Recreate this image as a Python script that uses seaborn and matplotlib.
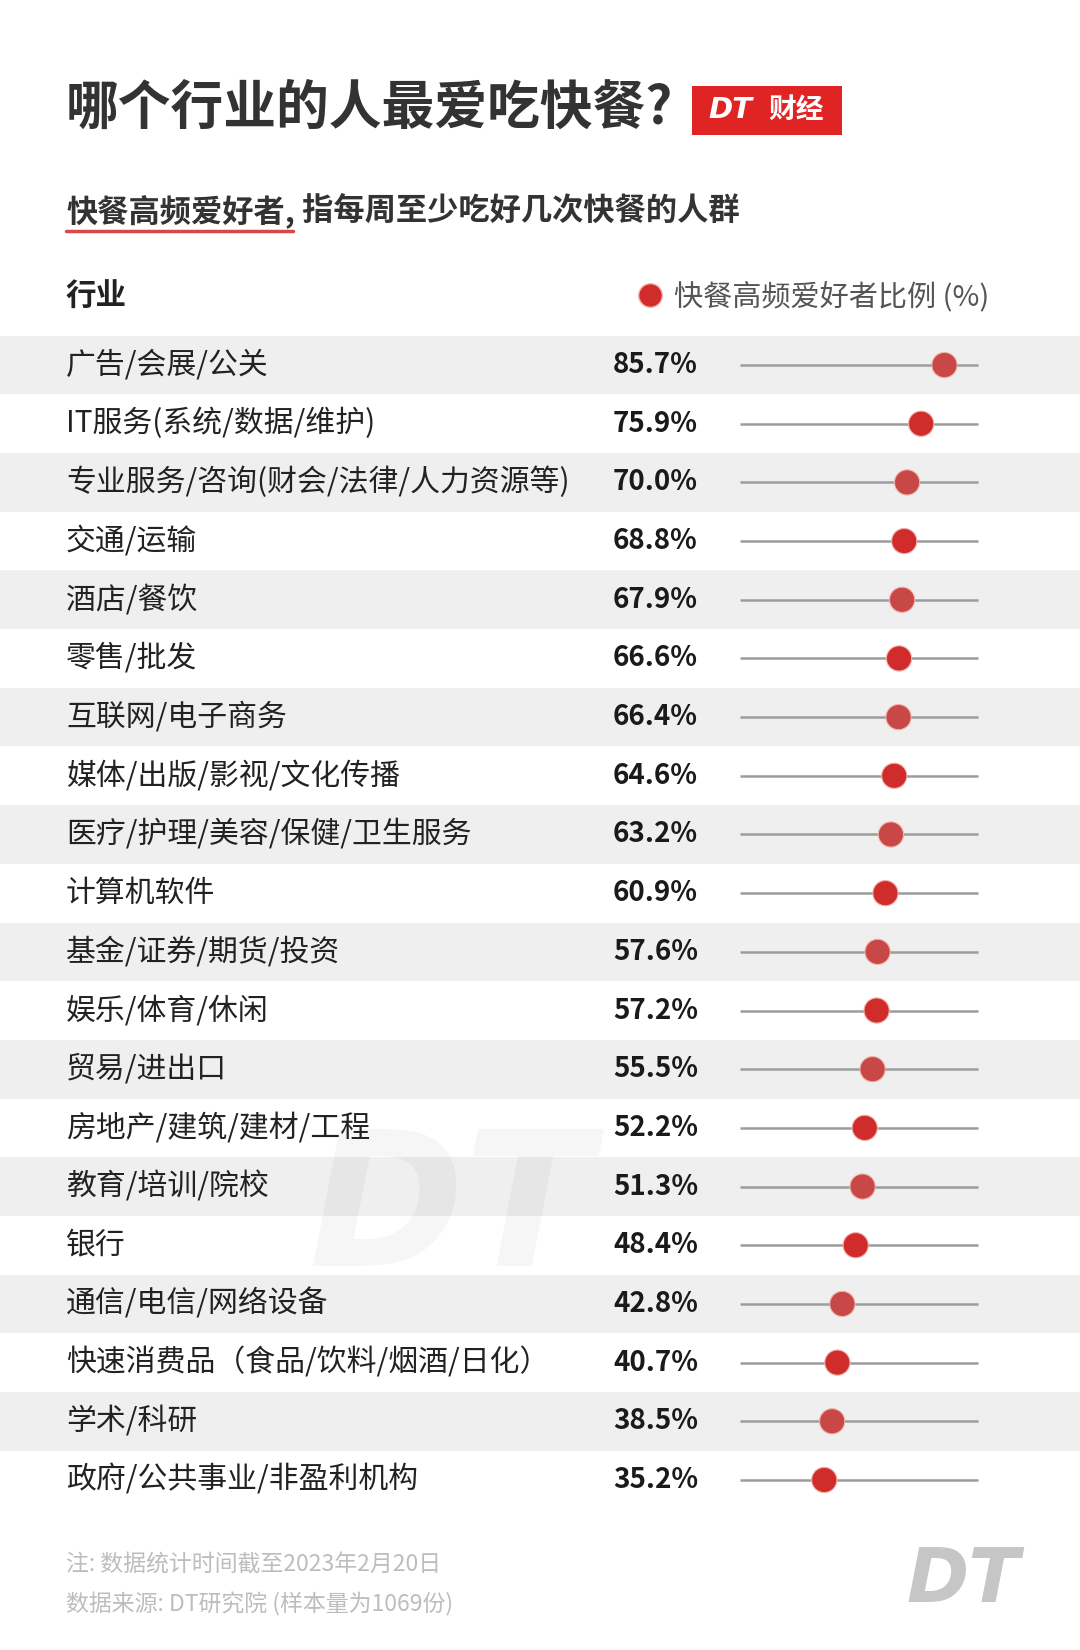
import numpy as np
import pandas as pd
import matplotlib.pyplot as plt
import seaborn as sns
import matplotlib.transforms as mtransforms
from matplotlib.patches import Rectangle
from matplotlib.lines import Line2D

# data
industries = [
    "广告/会展/公关", "IT服务(系统/数据/维护)", "专业服务/咨询(财会/法律/人力资源等)",
    "交通/运输", "酒店/餐饮", "零售/批发", "互联网/电子商务", "媒体/出版/影视/文化传播",
    "医疗/护理/美容/保健/卫生服务", "计算机软件", "基金/证券/期货/投资", "娱乐/体育/休闲",
    "贸易/进出口", "房地产/建筑/建材/工程", "教育/培训/院校", "银行", "通信/电信/网络设备",
    "快速消费品（食品/饮料/烟酒/日化）", "学术/科研", "政府/公共事业/非盈利机构",
]
shares = [85.7, 75.9, 70.0, 68.8, 67.9, 66.6, 66.4, 64.6, 63.2, 60.9,
          57.6, 57.2, 55.5, 52.2, 51.3, 48.4, 42.8, 40.7, 38.5, 35.2]

title = "哪个行业的人最爱吃快餐?"
subtitle_a = "快餐高频爱好者,"
subtitle_b = " 指每周至少吃好几次快餐的人群"
legend_label = "快餐高频爱好者比例 (%)"
note = "注: 数据统计时间截至2023年2月20日"
source = "数据来源: DT研究院 (样本量为1069份)"

sns.set_theme(style="white")
plt.rcParams['font.family'] = ['Noto Sans CJK SC', 'DejaVu Sans']

W, H = 1080, 1650
fig = plt.figure(figsize=(W / 100, H / 100), dpi=100)
fig.patch.set_facecolor('white')

# rows area spans the full width so the grey bands run edge to edge
top_px, bot_px = 335.7, 1509.3
ax = fig.add_axes([0, 1 - bot_px / H, 1, (bot_px - top_px) / H])
x0_px, x1_px = 740.5, 978.5
ppu = (x1_px - x0_px) / 100

df = pd.DataFrame({'industry': industries, 'share': shares})
df['row'] = np.arange(len(df))
df['band'] = np.where(df['row'] % 2 == 0, 'shade', 'plain')

for r in df.loc[df['band'] == 'shade', 'row']:
    ax.axhspan(r - 0.5, r + 0.5, color='#efefef', lw=0, zorder=0)

ax.hlines(df['row'], 0, 100, color='#9c9c9c', lw=1.8, zorder=1)
sns.scatterplot(data=df, x='share', y='row', hue='band',
                palette={'shade': '#c84747', 'plain': '#d02c2c'},
                s=330, edgecolor='#f2b3aa', linewidth=0.8, legend=False,
                ax=ax, zorder=3)
ax.set_xlim(-x0_px / ppu, (W - x0_px) / ppu)
ax.set_ylim(len(df) - 0.5, -0.5)
ax.axis('off')

tr = mtransforms.blended_transform_factory(fig.transFigure, ax.transData)
for _, row in df.iterrows():
    ax.text(66 / W, row['row'], row['industry'], transform=tr, ha='left', va='center',
            fontsize=21.5, color='#222222')
    ax.text(613 / W, row['row'], f"{row['share']:.1f}%", transform=tr, ha='left',
            va='center', fontsize=20, fontweight='bold', color='#1a1a1a')

# faint watermark
fig.text(450 / W, 1 - 1215 / H, "DT", fontsize=135, fontweight='heavy', style='italic',
         family='DejaVu Sans', color='black', alpha=0.035, ha='center', va='center')

# title + badge
fig.text(66 / W, 1 - 108 / H, title, fontsize=38, fontweight='heavy', color='#333333',
         ha='left', va='center')
fig.patches.append(Rectangle((692 / W, 1 - 135 / H), 150 / W, 49 / H,
                             transform=fig.transFigure, color='#e02323', lw=0))
fig.text(708 / W, 1 - 110 / H, "DT", fontsize=21, fontweight='heavy', style='italic',
         family='DejaVu Sans', color='white', ha='left', va='center')
fig.text(768 / W, 1 - 110 / H, "财经", fontsize=20, fontweight='bold', color='white',
         ha='left', va='center')

# subtitle with red underline
t1 = fig.text(66 / W, 1 - 211 / H, subtitle_a, fontsize=22.5, fontweight='bold',
              color='#333333', ha='left', va='center')
fig.canvas.draw()
bb = t1.get_window_extent()
fig.text(bb.x1 / W, 1 - 211 / H, subtitle_b, fontsize=22.5, fontweight='bold',
         color='#333333', ha='left', va='center')
fig.add_artist(Line2D([66 / W, 293 / W], [1 - 231 / H, 1 - 231 / H],
                      transform=fig.transFigure, color='#d94848', lw=2.5))

# header row
fig.text(66 / W, 1 - 297 / H, "行业", fontsize=22, fontweight='bold', color='#222222',
         ha='left', va='center')
handle = Line2D([], [], marker='o', ls='', color='#d02c2c', markersize=17,
                markeredgecolor='#f2b3aa')
fig.legend(handles=[handle], labels=[legend_label], loc='center right',
           bbox_to_anchor=(1015 / W, 1 - 297 / H), frameon=False,
           labelcolor='#555555', handletextpad=0.2, handlelength=1.2,
           prop={'size': 21, 'weight': 'light'})

# footer
fig.text(66 / W, 1 - 1565 / H, note, fontsize=16.5, fontweight='light', color='#bdbdbd',
         ha='left', va='center')
fig.text(66 / W, 1 - 1604 / H, source, fontsize=16.5, fontweight='light', color='#bdbdbd',
         ha='left', va='center')
fig.text(1020 / W, 1 - 1582 / H, "DT", fontsize=54, fontweight='heavy', style='italic',
         family='DejaVu Sans', color='#c6c6c6', ha='right', va='center')

fig.savefig('out.png', dpi=100, facecolor='white')
